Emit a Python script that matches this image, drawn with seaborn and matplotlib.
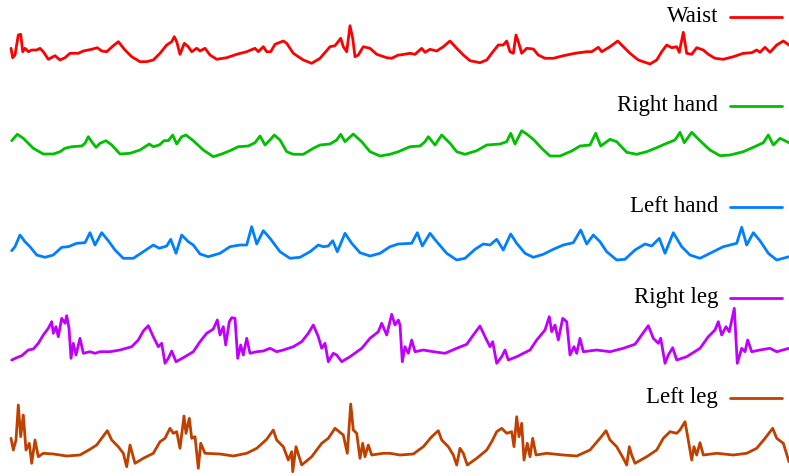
import numpy as np
import pandas as pd
import matplotlib
matplotlib.use('Agg')
import matplotlib.pyplot as plt
import seaborn as sns

# sensor signals (time in samples, amplitude in arbitrary units)
waist_t = [11, 12.7, 15, 18.3, 20.7, 22.7, 25, 28.3, 31.7, 36.7, 40, 43.3, 48.3, 55, 60, 65, 70, 78.3, 83.3, 91.7,
           97.3, 101.7, 106.7, 113.3, 118.3, 125, 131.7, 140, 146.7, 153.3, 160, 166.7, 171.7, 174.3, 176.7, 180,
           184.3, 188.3, 191.7, 196.7, 200, 205, 210, 216.7, 226.7, 236.7, 246.7, 255, 258.3, 263.3, 266.7, 270.7,
           275, 283.3, 286.7, 293.3, 303.3, 311.7, 320, 330, 335, 340.7, 343.3, 346.7, 350, 352.7, 355, 358.3,
           363.3, 370, 376.7, 386.7, 391.7, 398.3,
           400, 410, 415, 421.7, 425, 430, 436.7, 443.3, 450, 456.7, 463.3, 470, 480, 486.7, 491.7, 498.3, 503.3,
           506.7, 510, 513.3, 516, 518.3, 521.7, 526.7, 533.3, 538.3, 545, 553.3, 563.3, 575, 586.7, 591.7, 598.3,
           601.7, 610, 617.7, 623.3, 630, 638.3, 650, 656.7, 661.7, 666.7, 671.7, 676.7, 679.3, 683.3, 686.7,
           691.7, 696.7, 703.3, 708.3, 715, 723.3, 733.3, 743.3, 751.7, 756.7, 760, 765, 770, 776.7, 783.3, 789]
waist = [11.7, 2.3, 5, 25, 25.7, 8.3, 11.7, 8.3, 10, 10, 11.7, 8.3, 0.7, 4.3, 0, 2.3, 6.7, 6.7, 9, 10.7,
         12.3, 9, 8.3, 14.3, 18.3, 10, 3.3, -1.7, -1.7, 0, 6.7, 15, 18.3, 23.3, 18.3, 5.7, 16.7, 13.3, 8.3, 11.7,
         9, 11.7, 5, 0.7, 2.3, 5.7, 8.3, 11.7, 8.3, 13.3, 8.3, 8.3, 15.7, 19, 16.7, 6.7, 0, -3.3, 1.7, 13.3,
         14.3, 21.7, 13.3, 8.3, 34.3, 21.7, 3.3, 5, 13.3, 11.7, 5.7, 2.3, 1.7, 5,
         5, 6.7, 5.7, 11.7, 7.7, 10.7, 9, 13.3, 19, 11.7, 5, -0.7, -2.7, 0, 6.7, 15, 15, 19, 8.3, 6.7,
         25, 18.3, 6.7, 11.7, 11, 5, 1.7, 1.7, 4.3, 6.7, 8.3, 8.3, 12.7, 8.3, 13.3, 19, 13.3, 6.7, 0, -4,
         0, 8.3, 15, 12.3, 13.3, 7.7, 27.7, 6.7, 5.7, 12.3, 10, 5.7, 1.7, 0.7, 3.3, 6.7, 7.3, 10, 7.7, 12.7,
         7.7, 15, 19, 15]

rhand_t = [11.7, 17.3, 23.3, 33.3, 43.3, 53.3, 60, 65, 71.7, 81.7, 85, 88.3, 91.7, 96, 100, 106, 111.7, 120, 130,
           140, 149.3, 153.3, 159.3, 164, 168.3, 172.7, 176.7, 181.7, 186, 193.3, 203.3, 213.3, 221.7, 230, 238.3,
           248.3, 255, 260, 265, 270, 274.3, 280, 286.7, 293.3, 303.3, 313.3, 320, 330, 336.7, 340.7, 345, 353.3,
           361.7, 370, 380, 390, 398.3,
           400, 410, 420, 425, 428.3, 435, 441.7, 450, 456.7, 465, 476.7, 486.7, 500, 506.7, 510.7, 515, 521.7,
           526.7, 533.3, 541.7, 550, 560, 571.7, 580, 590, 595.7, 600.7, 610, 616.7, 626.7, 636.7, 646.7, 656.7,
           665, 675, 680, 684.3, 691.7, 700, 710, 720, 730, 743.3, 753.3, 763.3, 768.3, 773.3, 780, 789]
rhand = [14.3, 20.7, 16.7, 6.7, 1, 1, 3.3, 6.7, 8.3, 9, 11.7, 18.3, 13.3, 7.7, 11.7, 14.3, 10, 1, 1.7,
         5, 11, 8.3, 10, 14.3, 14.3, 20, 11, 18.3, 20, 14.3, 5, -1.7, 1, 4.3, 8.3,
         9, 12.3, 19, 10, 15, 20, 15, 3.3, 0.7, 0.7, 6.7, 10, 11, 15, 20.7, 13.3, 21,
         13.3, 3.3, -1, 0.7, 3.3,
         4, 8.3, 9, 13.3, 18.3, 10, 20, 11.7, 3.3, 0.7, 4.3, 10, 11, 13.3, 21.7, 11, 24.3,
         21, 15.7, 6.7, -1, -1, 4, 9, 10, 21.7, 9, 15.7, 13.3, 2.7, 0.7, 3.3, 7.3,
         11, 15, 22.7, 12.3, 22.7, 14.3, 5, -0.7, 0, 3.3, 7.7, 12.3, 20, 10, 16.7, 12.3]

lhand_t = [11.7, 15, 20, 25, 30, 36.7, 45, 53.3, 61.7, 68.3, 76.7, 85, 90, 95, 101.7, 108.3, 115, 123.3, 133.3,
           143.3, 153.3, 159.3, 166.7, 170.7, 176, 181.7, 188.3, 193.3, 200, 208.3, 220, 230, 240, 246.7, 251.7,
           256.7, 263.3, 270, 280, 290, 300, 310, 318.3, 323.3, 328.3, 332.7, 337.3, 345, 351.7, 360, 370, 380,
           390, 398.3,
           411.7, 417.3, 422.3, 430, 436.7, 446.7, 456.7, 465, 475, 483.3, 490, 496.7, 503.3, 510.7, 516.7, 525,
           533.3, 543.3, 553.3, 563.3, 573.3, 580.7, 586.7, 593.3, 600, 606.7, 616.7, 625, 635, 645, 651.7, 659.3,
           665, 673.3, 681.7, 690, 700, 710, 723.3, 736.7, 741.7, 746.7, 753.3, 760, 768.3, 776.7, 789]
lhand = [7.3, 11.3, 23, 16.3, 11.3, 3, 0.7, 3, 10.7, 11.3, 14.7, 15.3, 25.3, 13, 25.3, 17.3, 8, -0.3, -0.3,
         6.3, 13, 9.7, 12, 18.7, 4.7, 23, 16.3, 13, 4, 1.3, 4.7, 11.3, 13, 13, 31.3,
         14, 27.3, 19.7, 6.3, -0.3, 0.7, 6.3, 13, 11.3, 12, 17.3, 6.3, 24.7, 14.7, 5.3, 2, 4.7,
         11.3, 14,
         14.7, 25.3, 12, 24.7, 16.3, 4.7, -2, -0.3, 8.7, 14, 13, 18.7, 8, 24, 14.7, 4.7,
         0.7, 3.7, 8.7, 13, 15.3, 28, 14, 23, 16.3, 6.3, -2, -1.3, 8, 14, 12, 19.7,
         4.7, 25.3, 11.3, 3, -0.3, 4.7, 11.3, 14.7, 30.7, 13, 25.3, 17.3, 4.7, -2, 1.3]

rleg_t = [11.7, 16.7, 21.7, 28.3, 33.3, 38.3, 43.3, 48.3, 51.7, 53.3, 56, 58.3, 61.7, 65, 66.7, 69, 71, 73.3, 76,
          80, 83.3, 90, 95, 100, 110, 120, 131.7, 138.3, 143.3, 148.3, 153.3, 158.3, 161.7, 165, 168.3, 171.7,
          176, 183.3, 193.3, 200, 206.7, 213.3, 217.3, 220, 223.3, 225.7, 229.3, 231.7, 235, 237.7, 240.7, 243.3,
          246.7, 250, 256.7, 263.3, 270, 276.7, 283.3, 293.3, 301.7, 308.3, 313.3, 318.3, 321.7, 325, 328.3,
          333.3, 336.7, 341.7, 350, 361.7, 370, 378.3, 381.7, 386.7, 391.7, 395, 398.3,
          400, 402.3, 405, 408.3, 411.7, 415, 423.3, 433.3, 445, 456.7, 466.7, 473.3, 480, 485, 490, 492.7, 496.7,
          501.7, 505, 508.3, 516.7, 530, 536.7, 545, 549.3, 551.7, 555, 558.3, 562.7, 566.7, 570, 574, 576.7, 580,
          583.3, 596.7, 610, 623.3, 635, 641.7, 648.3, 653.3, 658.3, 660.7, 665, 668.3, 672.7, 676.7, 686.7, 700,
          708.3, 715, 718.3, 721.7, 726, 729.3, 734.3, 737.3, 741.7, 745, 747.7, 751.7, 760, 770, 776.7, 789]
rleg = [0, 2.3, 4.3, 10, 11, 16.7, 25, 31.7, 38.3, 26.7, 33.3, 23.3, 41.7, 36.7, 44.3, 31.7, 1.7, 16.7, 5,
        21.7, 6.7, 8.3, 6.7, 8.3, 8.3, 10, 13.3, 20, 29, 34.3, 23.3, 13.3, 16.7, -3.3, 1.7, 9,
        -1.7, 2.3, 8.3, 18.3, 26.7, 31, 40, 25, 33.3, 15, 38.3, 42.3, 41.7, 1.7, 15, 5,
        21.7, 6.7, 8.3, 9, 11.7, 8.3, 10, 13.3, 18.3, 26.7, 35, 23.3, 11.7, 16.7, -1.7,
        6.7, 5, -1.7, 3.3, 11.7, 21.7, 28.3, 36.7, 25, 45.7, 35, 40,
        35, -1.7, 13.3, 6.7, 20, 8.3, 10, 8.3, 6.7, 11.7, 15.7, 25, 34, 23.3, 13.3, 18.3, -3.3,
        3.3, 10, 0, 3.3, 10, 20, 30, 43.3, 28.3, 35, 20, 41.7, 38.3, 5, 13.3, 6.7, 21.7,
        8.3, 10, 8.3, 11.7, 15.7, 25, 34.3, 21.7, 16.7, 21.7, -3.3, 5, 12.3, 0, 3.3, 11.7,
        23.3, 30, 38.3, 25, 33.3, 28.3, 51.7, -3.3, 11.7, 8.3, 20, 8.3, 10, 11.7, 8.3, 11.7]

lleg_t = [11, 13.3, 16, 18.3, 20.7, 23.3, 26, 29.3, 31.7, 35, 38.3, 43.3, 53.3, 66.7, 80, 90, 96.7, 101.7, 107.3,
          111.7, 118.3, 123.3, 126.7, 130, 135, 143.3, 153.3, 160, 165, 170, 173.3, 176.7, 180, 184, 186, 189.3,
          191.7, 195, 198.3, 200.7, 205, 220, 233.3, 246.7, 256.7, 266.7, 273.3, 276.7, 283.3, 288.3, 291.7,
          292.7, 296, 301.7, 311.7, 321.7, 328.3, 335, 343.3, 347.3, 350.7, 353.3, 356.7, 360, 362.7, 365, 368.3,
          371.7, 383.3,
          390, 400, 413.3, 423.3, 431.7, 438.3, 441.7, 448.3, 453.3, 456.7, 460, 463.3, 467.3, 476.7, 486.7,
          491.7, 496.7, 501.7, 506.7, 511.7, 514, 516.7, 519, 521.7, 524, 527.3, 530, 532.7, 536, 546.7, 563.3,
          576.7, 590, 600, 606, 610, 616.7, 623.3, 626.7, 629.3, 631.7, 635, 646.7, 656.7, 663.3, 670, 676.7,
          680, 685, 687.7, 691.7, 694, 696.7, 700, 703.3, 716.7, 733.3, 746.7, 756.7, 765, 772.7, 776.7, 783.3, 789]
lleg = [21.7, 10, 20, 55, 23.3, 45, 10, 16.7, -3.3, 20, 3.3, 6.7, 6, 4, 5, 10.7, 15, 21.7, 29.3,
        20, 13.3, 6.7, -6.7, 15, -3.3, 1.7, 6.7, 18.3, 21.7, 31.7, 26.7, 28.3, 11.7, 44, 26.7, 41.7,
        21.7, 23.3, -8.3, 16.7, 6.7, 6, 4, 6.7, 11.7, 20.7, 30, 20, 13.3, 0, 8.3,
        -11.7, 13.3, -5, 3.3, 16.7, 21.7, 31.7, 25, 6.7, 56, 30, 26.7, 1.7, 16.7, 3.3, 15,
        5, 6.7,
        6.7, 5, 6, 13.3, 23.3, 29.3, 20, 13.3, 5, -5, 11.7, 6.7, -5, 1.7, 10,
        18.3, 28.3, 31.7, 26.7, 28.3, 13.3, 43.3, 23.3, 36.7, 0, 16.7, 3.3, 21.7, 5, 6.7, 5,
        4, 10, 21.7, 29.3, 20, 13.3, 1.7, -5, 13.3, 5, -3.3, 3.3, 10, 21.7, 28.3, 26.7,
        30, 38.3, 23.3, 0, 13.3, 5, 17.3, 5, 6.7, 5, 6.7, 11.7, 21.7, 31.7, 21.7, 16.7, -1.7]

labels = ['Waist', 'Right hand', 'Left hand', 'Right leg', 'Left leg']
colors = ['#ff0000', '#00c000', '#0080ff', '#c000ff', '#c04000']

series = [(waist_t, waist), (rhand_t, rhand), (lhand_t, lhand), (rleg_t, rleg), (lleg_t, lleg)]

# layout: vertical offset of each band and where its key sits
offsets = [60, 155, 258, 360, 460]
key_y = [17, 106, 207, 298, 398]

sns.set_style('white')
fig = plt.figure(figsize=(7.89, 4.76), dpi=100)
ax = fig.add_axes([0, 0, 1, 1])

for (t, v), lab, col, off, ky in zip(series, labels, colors, offsets, key_y):
    df = pd.DataFrame({'t': t, 'v': np.array(v) - off})
    sns.lineplot(data=df, x='t', y='v', color=col, linewidth=2.0, estimator=None, sort=False, ax=ax,
                 solid_joinstyle='round', solid_capstyle='round')
    ax.plot([730, 782], [-ky, -ky], color=col, linewidth=2.0)
    ax.text(718, -ky, lab, ha='right', va='center', fontsize=16.5,
            family=['Liberation Serif', 'DejaVu Serif'], color='black')

ax.set_xlim(0, 789)
ax.set_ylim(-476, 0)
ax.axis('off')

fig.savefig('out.png', dpi=100)
